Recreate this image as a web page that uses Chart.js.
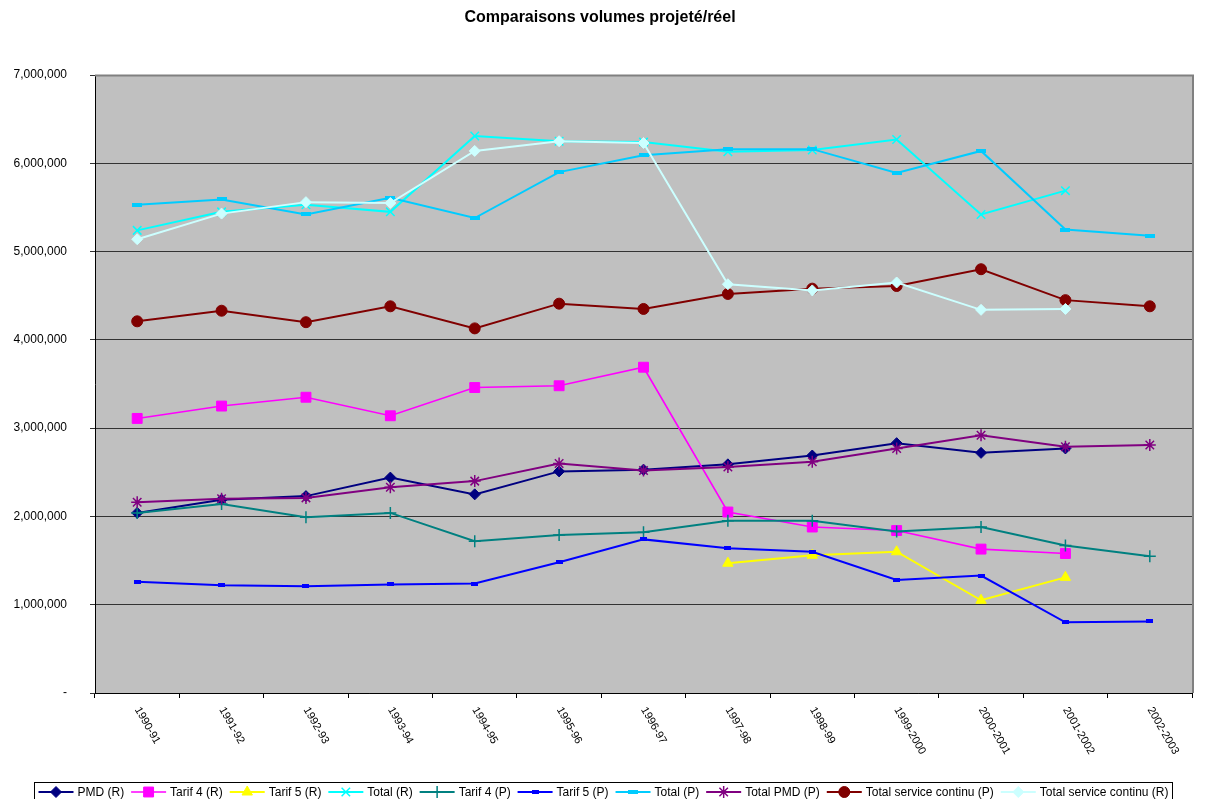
<!DOCTYPE html>
<html>
<head>
<meta charset="utf-8">
<title>Comparaisons volumes projeté/réel</title>
<script src="https://cdn.jsdelivr.net/npm/chart.js@4.4.0/dist/chart.umd.min.js"></script>
<style>
html, body { margin: 0; padding: 0; background: #fff; }
#wrap { width: 1206px; height: 799px; }
</style>
</head>
<body>
<div id="wrap"><canvas id="chart" width="1206" height="799"></canvas></div>
<script>
// Years (fiscal)
var years = ['1990-91', '1991-92', '1992-93', '1993-94', '1994-95', '1995-96', '1996-97',
             '1997-98', '1998-99', '1999-2000', '2000-2001', '2001-2002', '2002-2003'];

// Volumes - (R) = réel, (P) = projeté
var pmdR      = [2040000, 2190000, 2230000, 2440000, 2250000, 2510000, 2530000, 2590000, 2690000, 2830000, 2720000, 2770000, null];
var tarif4R   = [3110000, 3250000, 3350000, 3140000, 3460000, 3480000, 3690000, 2050000, 1880000, 1840000, 1630000, 1580000, null];
var tarif5R   = [null, null, null, null, null, null, null, 1470000, 1560000, 1600000, 1050000, 1310000, null];
var totalR    = [5240000, 5450000, 5530000, 5450000, 6310000, 6250000, 6240000, 6130000, 6150000, 6270000, 5420000, 5690000, null];
var tarif4P   = [2040000, 2140000, 1990000, 2040000, 1720000, 1790000, 1820000, 1950000, 1950000, 1830000, 1880000, 1670000, 1550000];
var tarif5P   = [1260000, 1220000, 1210000, 1230000, 1240000, 1480000, 1740000, 1640000, 1600000, 1280000, 1330000, 800000, 810000];
var totalP    = [5530000, 5590000, 5420000, 5610000, 5380000, 5900000, 6090000, 6160000, 6160000, 5890000, 6140000, 5250000, 5180000];
var totalPmdP = [2160000, 2200000, 2210000, 2330000, 2400000, 2600000, 2520000, 2560000, 2620000, 2770000, 2920000, 2790000, 2810000];
var tscP      = [4210000, 4330000, 4200000, 4380000, 4130000, 4410000, 4350000, 4520000, 4580000, 4610000, 4800000, 4450000, 4380000];
var tscR      = [5140000, 5430000, 5560000, 5550000, 6140000, 6250000, 6230000, 4630000, 4560000, 4650000, 4340000, 4350000, null];

var yTicks = [0, 1000000, 2000000, 3000000, 4000000, 5000000, 6000000, 7000000];

var FONT = 'Arial, "Liberation Sans", sans-serif';

// small dash markers used by the Tarif 5 (P) and Total (P) series
function dashMarker(w, h, color) {
    var c = document.createElement('canvas');
    c.width = w;
    c.height = h;
    var g = c.getContext('2d');
    g.fillStyle = color;
    g.fillRect(0, 0, w, h);
    return c;
}

function series(label, data, color, style, radius, extra) {
    var ds = {
        label: label,
        data: data,
        borderColor: color,
        backgroundColor: color,
        borderWidth: 2,
        pointStyle: style,
        pointRadius: radius,
        pointHoverRadius: radius,
        pointBackgroundColor: color,
        pointBorderColor: color,
        pointBorderWidth: 1,
        tension: 0,
        spanGaps: false
    };
    for (var k in extra) ds[k] = extra[k];
    return ds;
}

var datasets = [
    series('PMD (R)', pmdR, '#000080', 'rectRot', 5.5),
    series('Tarif 4 (R)', tarif4R, '#FF00FF', 'rect', 7, { borderWidth: 1.6 }),
    series('Tarif 5 (R)', tarif5R, '#FFFF00', 'triangle', 6),
    series('Total (R)', totalR, '#00FFFF', 'crossRot', 6, { pointBorderWidth: 1.5 }),
    series('Tarif 4 (P)', tarif4P, '#008080', 'cross', 6, { pointBorderWidth: 1.5 }),
    series('Tarif 5 (P)', tarif5P, '#0000FF', dashMarker(7, 4, '#0000FF'), 4),
    series('Total (P)', totalP, '#00CCFF', dashMarker(10, 4, '#00CCFF'), 5),
    series('Total PMD (P)', totalPmdP, '#800080', 'star', 6, { pointBorderWidth: 1.5 }),
    series('Total service continu (P)', tscP, '#800000', 'circle', 5.5),
    series('Total service continu (R)', tscR, '#CCFFFF', 'rectRot', 5.5)
];
// later series sit on top
datasets.forEach(function(ds, i) { ds.order = datasets.length - i; });

// grey plot area + frame
var plotArea = {
    id: 'plotArea',
    beforeDraw: function(chart) {
        var a = chart.chartArea, ctx = chart.ctx;
        ctx.save();
        ctx.fillStyle = '#C0C0C0';
        ctx.fillRect(a.left, a.top, a.right - a.left, a.bottom - a.top);
        ctx.restore();
    },
    afterDatasetsDraw: function(chart) {
        var a = chart.chartArea, ctx = chart.ctx;
        ctx.save();
        ctx.strokeStyle = '#808080';
        ctx.lineWidth = 2;
        ctx.beginPath();
        ctx.moveTo(a.left, a.top + 0.5);
        ctx.lineTo(a.right + 1, a.top + 0.5);
        ctx.lineTo(a.right + 1, a.bottom);
        ctx.stroke();
        ctx.restore();
    }
};

// title, slanted year labels, boxed legend
var decorations = {
    id: 'decorations',
    afterDraw: function(chart) {
        var ctx = chart.ctx;
        var xs = chart.scales.x;
        ctx.save();

        ctx.fillStyle = '#000';
        ctx.font = 'bold 16px ' + FONT;
        ctx.textAlign = 'center';
        ctx.textBaseline = 'middle';
        ctx.fillText('Comparaisons volumes projeté/réel', 600, 18);

        ctx.font = '11px ' + FONT;
        ctx.textAlign = 'left';
        years.forEach(function(y, i) {
            var x = xs.getPixelForValue(i);
            ctx.save();
            ctx.translate(x, 708);
            ctx.rotate(60 * Math.PI / 180);
            ctx.fillText(y, 0, 0);
            ctx.restore();
        });

        // legend
        var boxL = 34.5, boxR = 1172.5, boxT = 782.5, cy = 792;
        ctx.strokeStyle = '#000';
        ctx.lineWidth = 1;
        ctx.strokeRect(boxL, boxT, boxR - boxL, 30);

        ctx.font = '12px ' + FONT;
        var lineLen = 35, txtGap = 4;
        var widths = chart.data.datasets.map(function(ds) {
            return lineLen + txtGap + ctx.measureText(ds.label).width;
        });
        var used = widths.reduce(function(s, w) { return s + w; }, 0);
        var gap = (boxR - boxL - 8 - used) / (widths.length - 1);
        var x = boxL + 4;
        chart.data.datasets.forEach(function(ds, i) {
            ctx.strokeStyle = ds.borderColor;
            ctx.lineWidth = ds.borderWidth;
            ctx.beginPath();
            ctx.moveTo(x, cy);
            ctx.lineTo(x + lineLen, cy);
            ctx.stroke();
            ctx.fillStyle = ds.pointBackgroundColor;
            ctx.strokeStyle = ds.pointBorderColor;
            ctx.lineWidth = ds.pointBorderWidth;
            Chart.helpers.drawPoint(ctx, {
                pointStyle: ds.pointStyle,
                radius: ds.pointRadius,
                rotation: 0,
                borderWidth: ds.pointBorderWidth
            }, x + lineLen / 2, cy);
            ctx.fillStyle = '#000';
            ctx.textBaseline = 'middle';
            ctx.fillText(ds.label, x + lineLen + txtGap, cy + 1);
            x += widths[i] + gap;
        });
        ctx.restore();
    }
};

var chart = new Chart(document.getElementById('chart'), {
    type: 'line',
    data: { labels: years, datasets: datasets },
    options: {
        responsive: false,
        animation: false,
        layout: { padding: { top: 75, right: 14, bottom: 0, left: 0 } },
        plugins: {
            legend: { display: false },
            title: { display: false },
            tooltip: { enabled: false }
        },
        scales: {
            x: {
                type: 'category',
                offset: true,
                grid: {
                    display: true,
                    offset: true,
                    drawOnChartArea: false,
                    drawTicks: true,
                    tickLength: 5,
                    color: '#000'
                },
                border: { display: true, color: '#000', width: 1 },
                ticks: { display: false },
                afterFit: function(scale) { scale.height = 106; }
            },
            y: {
                min: 0,
                max: 7000000,
                afterBuildTicks: function(scale) {
                    scale.ticks = yTicks.map(function(v) { return { value: v }; });
                },
                grid: {
                    color: '#333',
                    lineWidth: 1,
                    tickLength: 5,
                    drawTicks: true
                },
                border: { display: true, color: '#000', width: 1 },
                ticks: {
                    color: '#000',
                    font: { family: FONT, size: 12 },
                    padding: 23,
                    callback: function(v) {
                        return v === 0 ? '-' : v.toLocaleString('en-US');
                    }
                },
                afterFit: function(scale) { scale.width = 95; }
            }
        }
    },
    plugins: [plotArea, decorations]
});
</script>
</body>
</html>
